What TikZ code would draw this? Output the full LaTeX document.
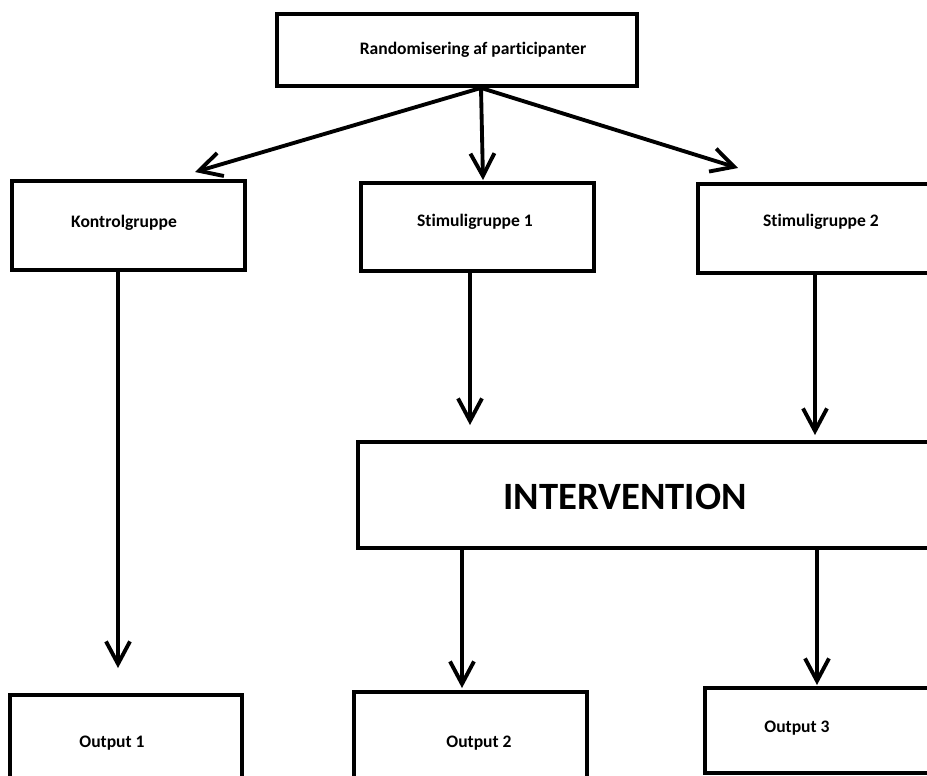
\documentclass[tikz,border=0pt]{standalone}
\usepackage{fontspec}
\setmainfont{Carlito}[Ligatures={NoCommon}]
\usepackage{tikz}
\usetikzlibrary{arrows.meta,positioning}
\tikzset{
  % rammer
  box/.style={
    draw=black,
    line width=2.2pt,
    rectangle,
    inner sep=0pt
  },
  % tekst i rammerne
  lbl/.style={font=\fontsize{10}{12}\selectfont\bfseries, inner sep=0pt},
  biglbl/.style={font=\fontsize{22}{26}\selectfont\bfseries, inner sep=0pt},
  % pile
  arr/.style={-{Straight Barb[length=0.45cm, width=0.48cm, line width=2.2pt]}, line width=2.2pt, line cap=round},
}

\begin{document}
\begin{tikzpicture}[x=0.02cm, y=-0.02cm]
    \useasboundingbox (0,0) rectangle (927,775);
    \clip (0,0) rectangle (927,775);

    % Randomisering
    \node[box, minimum width=7.2cm, minimum height=1.44cm] (rand) at (457,50) {};
    \node[lbl] at (473,50) {Randomisering af participanter};

    % Grupper
    \node[box, minimum width=4.66cm, minimum height=1.78cm] (kontrol) at (128.5,225.5) {};
    \node[lbl] at (124,223) {Kontrolgruppe};
    \node[box, minimum width=4.66cm, minimum height=1.76cm] (stim1) at (477.5,227) {};
    \node[lbl] at (475,222) {Stimuligruppe 1};
    \node[box, minimum width=5.24cm, minimum height=1.78cm] (stim2) at (829,228.5) {};
    \node[lbl] at (821,222) {Stimuligruppe 2};

    % Intervention
    \node[box, minimum width=12.04cm, minimum height=2.12cm] (interv) at (659,495) {};
    \node[biglbl] at (625,497) {INTERVENTION};

    % Output
    \node[box, minimum width=4.64cm, minimum height=2.1cm] (out1) at (126,747.5) {};
    \node[lbl] at (112,743) {Output 1};
    \node[box, minimum width=4.66cm, minimum height=2.16cm] (out2) at (470.5,746) {};
    \node[lbl] at (479,743) {Output 2};
    \node[box, minimum width=5.1cm, minimum height=1.7cm] (out3) at (832.5,730.5) {};
    \node[lbl] at (797,728) {Output 3};

    % pilespidser
    \coordinate (split) at ([xshift=0.48cm]rand.south);
    \coordinate (tk) at (195,172);
    \coordinate (ts1) at (483,180);
    \coordinate (ts2) at (738,168);
    \coordinate (to1) at (118,668);
    \coordinate (ti1) at (470,425);
    \coordinate (ti2) at (815,435);
    \coordinate (to2) at (462,688);
    \coordinate (to3) at (817,685);

    % pile
    \draw[arr] (split) -- (tk);
    \draw[arr] (split) -- (ts1);
    \draw[arr] (split) -- (ts2);
    \draw[arr] (kontrol.south -| to1) -- (to1);
    \draw[arr] (stim1.south -| ti1) -- (ti1);
    \draw[arr] (stim2.south -| ti2) -- (ti2);
    \draw[arr] (interv.south -| to2) -- (to2);
    \draw[arr] (interv.south -| to3) -- (to3);
\end{tikzpicture}
\end{document}
